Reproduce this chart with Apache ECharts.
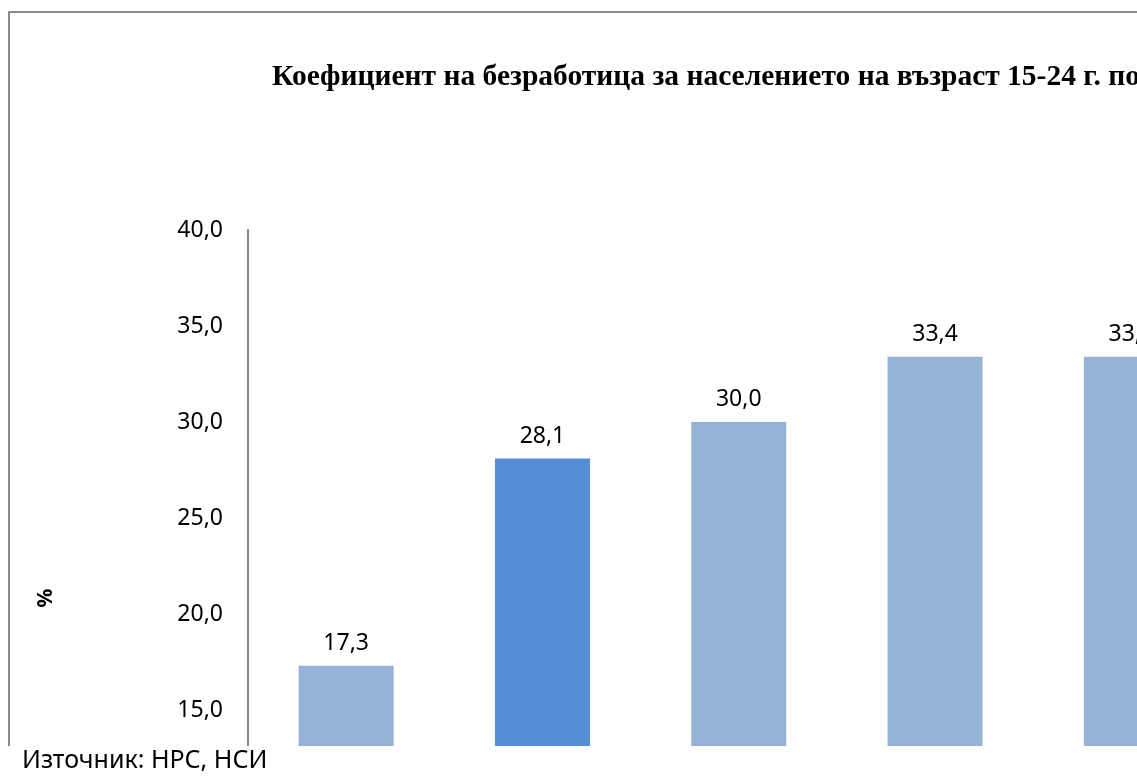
<!DOCTYPE html>
<html>
<head>
<meta charset="utf-8">
<script src="https://cdn.jsdelivr.net/npm/echarts@6/dist/echarts.min.js"></script>
<style>
html,body{margin:0;padding:0;background:#fff;}
#chart{width:1137px;height:778px;}
</style>
</head>
<body>
<div id="chart"></div>
<script>
const titleText = 'Коефициент на безработица за населението на възраст 15-24 г. по';
const categories = ['1', '2', '3', '4', '5'];
const values = [17.3, 28.1, 30.0, 33.4, 33.4];
const highlightIndex = 1;
const yTicks = [10, 15, 20, 25, 30, 35, 40];
const axisName = '%';
const sourceText = 'Източник: НРС, НСИ';

const fmt = v => v.toFixed(1).replace('.', ',');

const chart = echarts.init(document.getElementById('chart'), null, {renderer: 'canvas'});
chart.setOption({
  animation: false,
  backgroundColor: '#ffffff',
  title: {
    text: titleText,
    left: 267,
    top: 57,
    textStyle: {fontFamily: 'Liberation Serif', fontWeight: 'bold', fontSize: 29.5, color: '#000'}
  },
  grid: {left: 248, top: 230, width: 5 * 196.3, height: 576, containLabel: false, outerBoundsMode: 'none'},
  xAxis: {
    type: 'category',
    data: categories,
    axisLine: {show: false},
    axisTick: {show: false},
    axisLabel: {show: false}
  },
  yAxis: {
    type: 'value',
    min: yTicks[0],
    max: yTicks[yTicks.length - 1],
    interval: 5,
    splitLine: {show: false},
    axisTick: {show: false},
    axisLine: {show: true, lineStyle: {color: '#8a8a8a', width: 2}},
    axisLabel: {
      margin: 25,
      fontFamily: 'Noto Sans',
      fontSize: 23,
      color: '#000',
      formatter: v => fmt(v)
    }
  },
  series: [{
    type: 'bar',
    data: values.map((v, i) => ({
      value: v,
      itemStyle: {color: i === highlightIndex ? '#558ED5' : '#95B3D7'}
    })),
    barWidth: '48.4%',
    label: {
      show: true,
      position: 'top',
      distance: 11,
      fontFamily: 'Noto Sans',
      fontSize: 23,
      color: '#000',
      formatter: p => fmt(p.value)
    }
  }],
  graphic: [
    {
      type: 'rect', z: 0, silent: true,
      shape: {x: 9, y: 12, width: 1200, height: 800},
      style: {fill: 'none', stroke: '#8a8a8a', lineWidth: 2}
    },
    {
      type: 'rect', z: 100, silent: true,
      shape: {x: 0, y: 746, width: 1137, height: 40},
      style: {fill: '#ffffff'}
    },
    {
      type: 'text', z: 101, silent: true,
      left: 22, top: 748,
      style: {text: sourceText, fontFamily: 'Noto Sans', fontSize: 25, fill: '#000'}
    },
    {
      type: 'text', z: 101, silent: true,
      x: 46, y: 598, rotation: Math.PI / 2,
      style: {text: axisName, fontFamily: 'Noto Sans', fontWeight: 'bold', fontSize: 21, fill: '#000', align: 'center', verticalAlign: 'middle'}
    }
  ]
});
</script>
</body>
</html>
